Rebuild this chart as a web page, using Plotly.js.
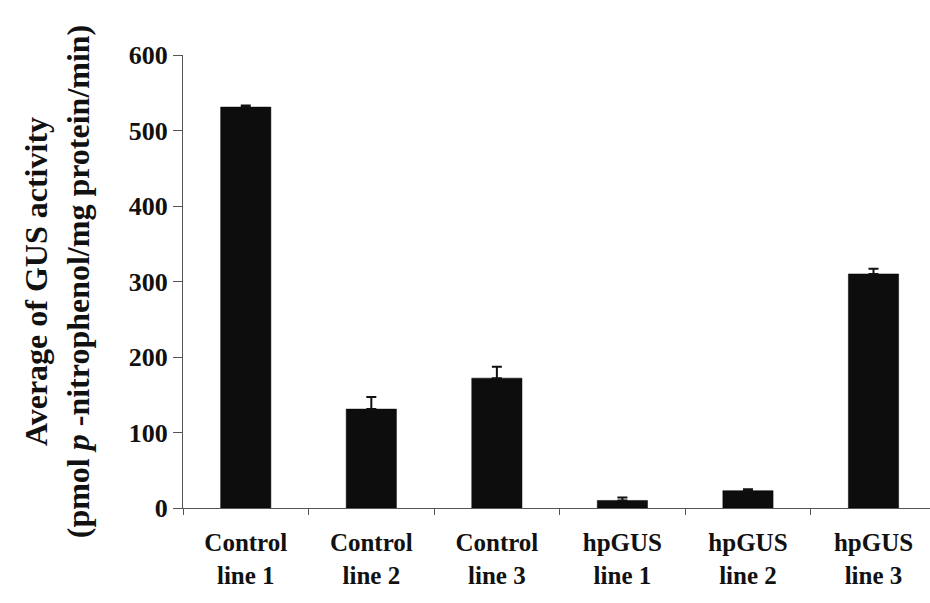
<!DOCTYPE html>
<html>
<head>
<meta charset="utf-8">
<script src="https://cdn.plot.ly/plotly-3.0.1.min.js"></script>
<style>html,body{margin:0;padding:0;background:#fff;}#chart{width:930px;height:603px;}</style>
</head>
<body>
<div id="chart"></div>
<script>
const categories = ["Control<br>line 1", "Control<br>line 2", "Control<br>line 3", "hpGUS<br>line 1", "hpGUS<br>line 2", "hpGUS<br>line 3"];
const activity = [531, 131, 172, 10, 23, 310];
const errors = [2, 16, 15, 4, 2, 7];
const yTicks = [0, 100, 200, 300, 400, 500, 600];

const font = "Liberation Serif";

const trace = {
  type: "bar",
  x: categories,
  y: activity,
  marker: {color: "#0d0d0d", line: {color: "#000", width: 0.5}},
  error_y: {type: "data", array: errors, visible: true, symmetric: false, arrayminus: errors.map(() => 0), color: "#111", thickness: 2, width: 5},
  hoverinfo: "x+y"
};

const layout = {
  width: 930, height: 603,
  paper_bgcolor: "#fff", plot_bgcolor: "#fff",
  margin: {l: 183, r: 0, t: 55, b: 95},
  bargap: 0.6,
  showlegend: false,
  font: {family: font, color: "#111"},
  xaxis: {
    type: "category",
    range: [-0.5, 5.45],
    showline: true, linecolor: "#555", linewidth: 1,
    ticks: "outside", tickson: "boundaries", ticklen: 6, tickcolor: "#555",
    tickfont: {family: font, size: 25, color: "#111", weight: "bold"},
    ticklabelstandoff: 12,
    showgrid: false, zeroline: false, fixedrange: true
  },
  yaxis: {
    range: [0, 600],
    tickvals: yTicks,
    ticktext: yTicks.map(String),
    showline: true, linecolor: "#555", linewidth: 1,
    ticks: "outside", ticklen: 9, tickcolor: "#555",
    tickfont: {family: font, size: 26, color: "#111", weight: "bold"},
    showgrid: false, zeroline: false,
    title: {
      text: "<b>Average of GUS activity<br>(pmol <i>p</i> -nitrophenol/mg protein/min)</b>",
      font: {family: font, size: 32, color: "#111"},
      standoff: 29
    },
    automargin: false
  }
};

Plotly.newPlot("chart", [trace], layout, {displayModeBar: false, staticPlot: true});
</script>
</body>
</html>
